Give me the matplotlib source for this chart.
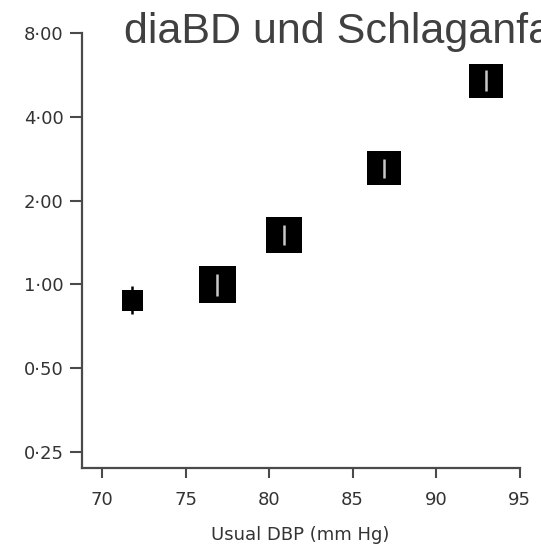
import matplotlib
matplotlib.use("Agg")
import matplotlib.pyplot as plt
from matplotlib.ticker import FixedLocator, FixedFormatter, NullLocator

# ---- data ----
usual_dbp = [71.8, 76.9, 80.9, 86.9, 93.0]          # mm Hg
hazard_ratio = [0.874, 1.00, 1.50, 2.63, 5.40]
ci_low = [0.78, 0.91, 1.38, 2.42, 4.97]
ci_high = [0.99, 1.09, 1.63, 2.83, 5.89]
relative_weight = [0.32, 1.00, 0.95, 0.85, 0.83]     # box area, relative

x_ticks = [70, 75, 80, 85, 90, 95]
x_tick_labels = ["70", "75", "80", "85", "90", "95"]
y_ticks = [0.25, 0.5, 1.0, 2.0, 4.0, 8.0]
y_tick_labels = ["0·25", "0·50", "1·00", "2·00", "4·00", "8·00"]

title = "diaBD und Schlaganfall"
x_label = "Usual DBP (mm Hg)"

# ---- figure ----
W, H = 541, 546
fig = plt.figure(figsize=(W / 100, H / 100), dpi=100)
left_px, right_px, top_px, bottom_px = 81.5, 519.5, 33.3, 468.0
ax = fig.add_axes([left_px / W, 1 - bottom_px / H,
                   (right_px - left_px) / W, (bottom_px - top_px) / H])

ax.set_yscale("log", base=2)
ax.set_ylim(0.2184, 8)
ax.set_xlim(68.76, 95)

axis_col = "#4a4a4a"
text_col = "#333333"

# boxes
max_area = 710.0
sizes = [w * max_area for w in relative_weight]
ax.scatter(usual_dbp, hazard_ratio, s=sizes, marker="s", color="black",
           linewidths=0, zorder=3, clip_on=False)

# confidence intervals: light inside large boxes, black for the small box
for i, (x, lo, hi) in enumerate(zip(usual_dbp, ci_low, ci_high)):
    col = "black" if relative_weight[i] < 0.5 else "#c8c8c8"
    ax.vlines(x, lo, hi, colors=col, linewidth=1.8, zorder=4)

# spines
for s in ("top", "right"):
    ax.spines[s].set_visible(False)
for s in ("left", "bottom"):
    ax.spines[s].set_color(axis_col)
    ax.spines[s].set_linewidth(1.6)

ax.xaxis.set_major_locator(FixedLocator(x_ticks))
ax.xaxis.set_major_formatter(FixedFormatter(x_tick_labels))
ax.yaxis.set_major_locator(FixedLocator(y_ticks))
ax.yaxis.set_major_formatter(FixedFormatter(y_tick_labels))
ax.yaxis.set_minor_locator(NullLocator())
ax.xaxis.set_minor_locator(NullLocator())

ax.tick_params(axis="y", direction="out", length=8.5, width=1.5,
               color=axis_col, pad=4.5, labelsize=13, labelcolor=text_col)
ax.tick_params(axis="x", direction="out", length=7.5, width=1.5,
               color=axis_col, pad=9, labelsize=13, labelcolor=text_col)

ax.set_xlabel(x_label, fontsize=13, color=text_col, labelpad=12)

fig.text(123.6 / W, 1 - 43.0 / H, title, fontsize=31,
         family="Liberation Sans", color="#404040",
         ha="left", va="baseline")

fig.savefig("out.png", dpi=100)
